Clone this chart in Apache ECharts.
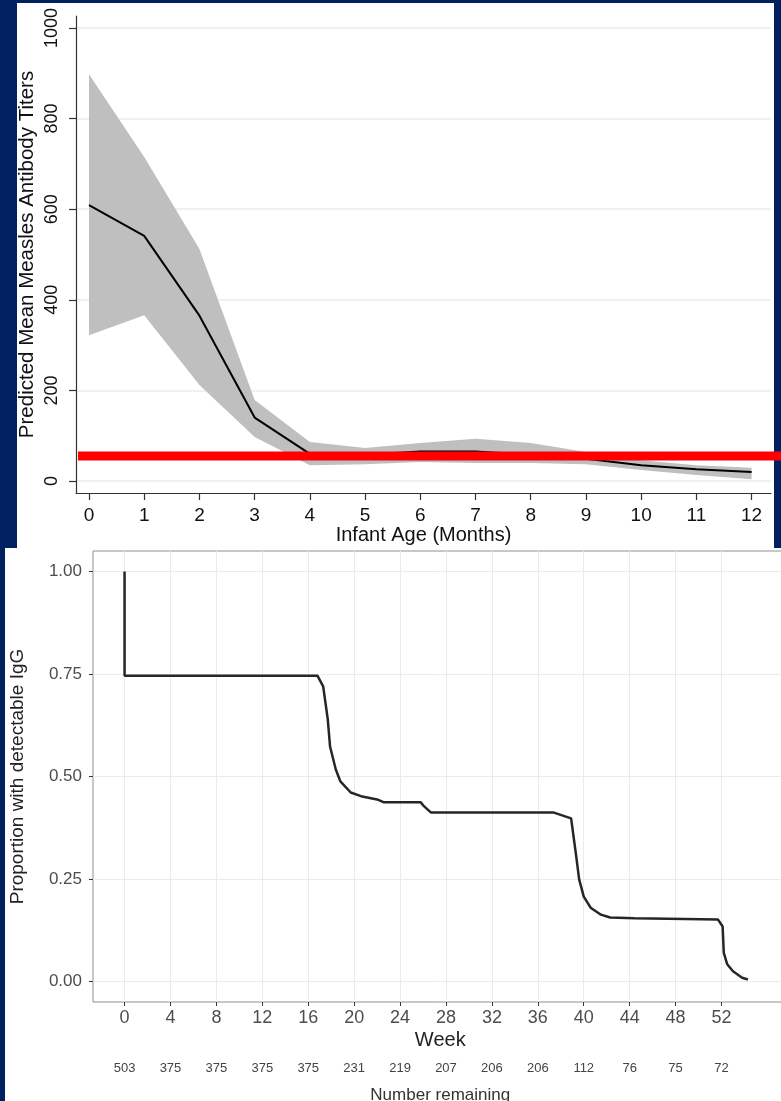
<!DOCTYPE html>
<html><head><meta charset="utf-8">
<script src="https://cdn.jsdelivr.net/npm/echarts@6/dist/echarts.min.js"></script>
<style>html,body{margin:0;padding:0;background:#002060;overflow:hidden}#c{width:781px;height:1101px}</style>
</head><body><div id="c"></div>
<script>
// ---- Top chart data ----
const months = [0,1,2,3,4,5,6,7,8,9,10,11,12];
const meanTiter = [609,541,365,140,60,58,65,65,58,49,35,26,20];
const upperCI   = [898,715,512,179,86,73,84,93,84,64,46,35,29];
const lowerCI   = [322,366,212,97,35,37,42,40,40,37,24,13,4];
const thresholdTiter = 55;
const titerTicks = [0,200,400,600,800,1000];

// ---- Bottom chart data ----
const kmWeeks = [0,0,16.8,17.3,17.7,17.9,18.4,18.8,19.7,20.6,22.0,22.6,25.8,26.1,26.7,37.4,38.9,39.3,39.6,40.0,40.6,41.5,42.3,44.4,51.7,52.1,52.2,52.5,53.0,53.8,54.3];
const kmSurv  = [1.0,0.746,0.746,0.72,0.64,0.573,0.517,0.488,0.461,0.452,0.444,0.437,0.437,0.427,0.412,0.412,0.398,0.315,0.249,0.207,0.18,0.163,0.156,0.154,0.151,0.134,0.07,0.042,0.025,0.009,0.005];
const weekTicks = [0,4,8,12,16,20,24,28,32,36,40,44,48,52];
const numberRemaining = [503,375,375,375,375,231,219,207,206,206,112,76,75,72];
const propTicks = [0,0.25,0.5,0.75,1];

const chart = echarts.init(document.getElementById('c'));
const FONT = '"Liberation Sans", Arial, Helvetica, sans-serif';

chart.setOption({
  animation: false,
  backgroundColor: '#002060',
  textStyle: {fontFamily: FONT},
  graphic: {elements: [
    {type:'rect', z:-100, shape:{x:17,y:3,width:757,height:545}, style:{fill:'#ffffff'}},
    {type:'rect', z:-100, shape:{x:5,y:548,width:776,height:553}, style:{fill:'#ffffff'}}
  ]},
  grid: [
    {left:76, top:16, width:695, height:477, show:false, outerBoundsMode:'none', containLabel:false},
    {left:78, top:16, right:0, height:477, show:false, outerBoundsMode:'none', containLabel:false},
    {left:93, top:551, width:694.5, height:451, show:true, backgroundColor:'#ffffff', borderColor:'#8f8f8f', borderWidth:1, outerBoundsMode:'none', containLabel:false}
  ],
  xAxis: [
    {type:'value', gridIndex:0, min:-0.2354, max:12.351,
     axisLine:{show:true, onZero:false, lineStyle:{color:'#333', width:1.2}},
     axisTick:{show:true, length:7, lineStyle:{color:'#333', width:1.2}, customValues: months},
     axisLabel:{customValues: months, fontSize:19, color:'#111', margin:13, fontFamily:FONT},
     splitLine:{show:false},
     name:'Infant Age (Months)', nameLocation:'middle', nameGap:32, nameMoveOverlap:false,
     nameTextStyle:{fontSize:20, color:'#111', fontFamily:FONT}},
    {type:'value', gridIndex:1, min:0, max:1, show:false},
    {type:'value', gridIndex:2, min:-2.75, max:57.75, position:'bottom',
     axisLine:{show:false, onZero:false},
     axisTick:{show:true, length:4, lineStyle:{color:'#333'}, customValues: weekTicks},
     axisLabel:{customValues: weekTicks, fontSize:18, color:'#4d4d4d', margin:7, fontFamily:FONT},
     splitLine:{show:true, lineStyle:{color:'#ebebeb', width:1}},
     name:'Week', nameLocation:'middle', nameGap:28, nameMoveOverlap:false,
     nameTextStyle:{fontSize:20, color:'#222', fontFamily:FONT}},
    {type:'value', gridIndex:2, min:-2.75, max:57.75, position:'bottom', offset:51,
     axisLine:{show:false, onZero:false}, axisTick:{show:false}, splitLine:{show:false},
     axisLabel:{customValues: weekTicks, fontSize:13, color:'#444', margin:9, fontFamily:FONT,
       formatter: v => { const i = weekTicks.indexOf(Math.round(v)); return i >= 0 ? String(numberRemaining[i]) : ''; }},
     name:'Number remaining', nameLocation:'middle', nameGap:34, nameMoveOverlap:false,
     nameTextStyle:{fontSize:17, color:'#333', fontFamily:FONT}}
  ],
  yAxis: [
    {type:'value', gridIndex:0, min:-26.5, max:1026.5,
     axisLine:{show:true, onZero:false, lineStyle:{color:'#333', width:1.2}},
     axisTick:{show:true, length:7, lineStyle:{color:'#333', width:1.2}, customValues: titerTicks},
     axisLabel:{customValues: titerTicks, rotate:90, fontSize:18, color:'#111', margin:15, fontFamily:FONT,
       formatter: v => String(Math.round(v))},
     splitLine:{show:true, lineStyle:{color:'#e6eff1', width:1.5}},
     name:'Predicted Mean Measles Antibody Titers', nameLocation:'middle', nameGap:38, nameMoveOverlap:false,
     nameTextStyle:{fontSize:20.5, color:'#111', fontFamily:FONT}},
    {type:'value', gridIndex:1, min:-26.5, max:1026.5, show:false},
    {type:'value', gridIndex:2, min:-0.05, max:1.05,
     axisLine:{show:false, onZero:false},
     axisTick:{show:true, length:4, lineStyle:{color:'#333'}, customValues: propTicks},
     axisLabel:{customValues: propTicks, fontSize:17, color:'#4d4d4d', margin:11, fontFamily:FONT,
       formatter: v => v.toFixed(2)},
     splitLine:{show:true, lineStyle:{color:'#ebebeb', width:1}},
     name:'Proportion with detectable IgG', nameLocation:'middle', nameGap:66, nameMoveOverlap:false,
     nameTextStyle:{fontSize:19, color:'#222', fontFamily:FONT}}
  ],
  series: [
    {type:'custom', xAxisIndex:0, yAxisIndex:0, silent:true, z:2,
     encode:{x:0, y:[1,2]},
     data: months.map((m,i)=>[m, lowerCI[i], upperCI[i]]),
     renderItem: function (params, api) {
       if (params.dataIndex !== 0) return null;
       const pts = [];
       for (let i = 0; i < months.length; i++) pts.push(api.coord([months[i], upperCI[i]]));
       for (let i = months.length - 1; i >= 0; i--) pts.push(api.coord([months[i], lowerCI[i]]));
       return {type:'polygon', shape:{points:pts}, style:{fill:'#bfbfbf', stroke:null}};
     }},
    {type:'line', xAxisIndex:0, yAxisIndex:0, symbol:'none', z:5,
     lineStyle:{color:'#000', width:2}, data: months.map((m,i)=>[m, meanTiter[i]])},
    {type:'line', xAxisIndex:1, yAxisIndex:1, symbol:'none', z:10, silent:true,
     lineStyle:{color:'#ff0000', width:9}, data:[[0,thresholdTiter],[1,thresholdTiter]]},
    {type:'line', xAxisIndex:2, yAxisIndex:2, symbol:'none', z:5,
     lineStyle:{color:'#262626', width:2.5}, data: kmWeeks.map((w,i)=>[w, kmSurv[i]])}
  ]
});
</script></body></html>
